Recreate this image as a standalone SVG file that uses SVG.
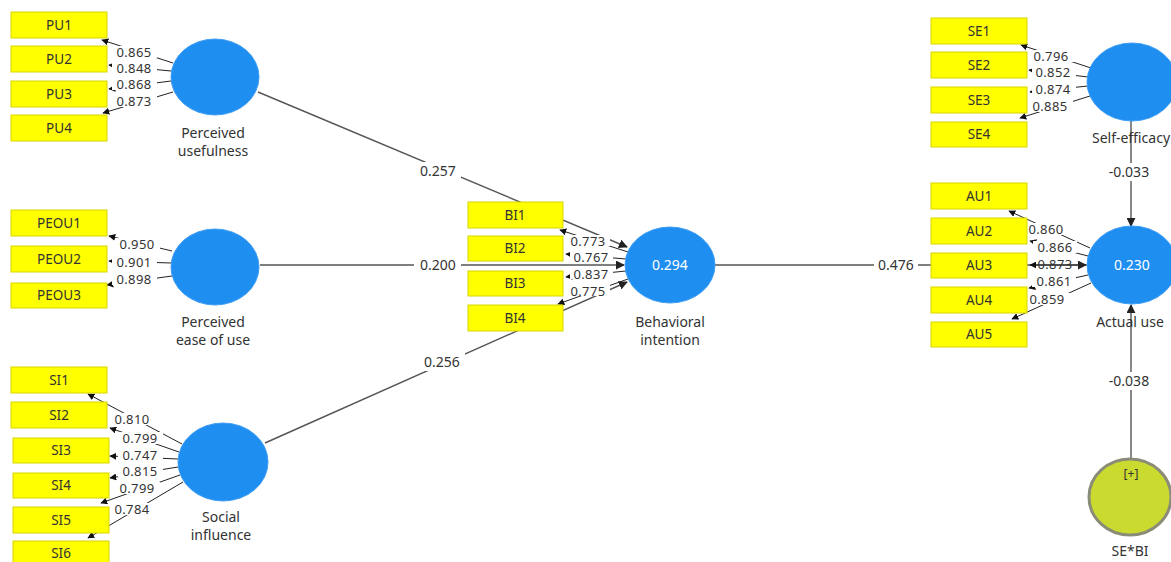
<svg xmlns="http://www.w3.org/2000/svg" width="1171" height="562" viewBox="0 0 1171 562">
<defs>
<marker id="ah" viewBox="0 0 10 10" refX="9" refY="5" markerWidth="7" markerHeight="7" markerUnits="userSpaceOnUse" orient="auto">
<path d="M0,0 L10,5 L0,10 z" fill="#111"/>
</marker>
<marker id="ap" viewBox="0 0 10 10" refX="9" refY="5" markerWidth="9" markerHeight="9" markerUnits="userSpaceOnUse" orient="auto">
<path d="M0,0 L10,5 L0,10 z" fill="#222"/>
</marker>
</defs>
<style>
.ind{fill:#ffff00;stroke:#d6d600;stroke-width:1}
.it{font-family:"Noto Sans","Open Sans",sans-serif;font-size:13.5px;fill:#333;text-anchor:middle}
.lv{fill:#1f8ef1;stroke:#3d9cf3;stroke-width:1}
.lt{font-family:"Noto Sans","Open Sans",sans-serif;font-size:14px;fill:#333;text-anchor:middle}
.r2{font-family:"Noto Sans","Open Sans",sans-serif;font-size:14px;fill:#ffffff;text-anchor:middle}
.ld{stroke:#222;stroke-width:1;fill:none;marker-end:url(#ah)}
.pc{stroke:#555;stroke-width:1.4;fill:none;marker-end:url(#ap)}
.num{font-family:"Noto Sans","Open Sans",sans-serif;font-size:14px;fill:#333;text-anchor:middle}
.ln{font-family:"Noto Sans","Open Sans",sans-serif;font-size:13px;fill:#333;text-anchor:middle;letter-spacing:0.4px}
.bg{fill:#ffffff}
</style>
<rect width="1171" height="562" fill="#ffffff"/>
<g id="connectors">
<line class="pc" x1="258" y1="92" x2="627" y2="247"/>
<line class="pc" x1="260" y1="265" x2="624" y2="265"/>
<line class="pc" x1="265" y1="443" x2="627" y2="282"/>
<line class="pc" x1="715" y1="265" x2="1086" y2="265"/>
<line class="pc" x1="1131" y1="121" x2="1131" y2="226"/>
<line class="pc" x1="1131" y1="459" x2="1131" y2="305"/>
<rect class="bg" x="415" y="162" width="46" height="18"/><text class="num" x="438" y="176">0.257</text>
<rect class="bg" x="414" y="257" width="47" height="17"/><text class="num" x="438" y="270">0.200</text>
<rect class="bg" x="419" y="353" width="46" height="18"/><text class="num" x="442" y="367">0.256</text>
<rect class="bg" x="874" y="257" width="44" height="17"/><text class="num" x="896" y="270">0.476</text>
<rect class="bg" x="1104" y="163" width="50" height="18"/><text class="num" x="1129" y="177">-0.033</text>
<rect class="bg" x="1104" y="372" width="50" height="18"/><text class="num" x="1129" y="386">-0.038</text>
<line class="ld" x1="173" y1="63" x2="102" y2="40"/>
<line class="ld" x1="171" y1="71" x2="109" y2="65"/>
<line class="ld" x1="171" y1="81" x2="109" y2="89"/>
<line class="ld" x1="173" y1="92" x2="103" y2="113"/>
<rect class="bg" x="112" y="46" width="45" height="12"/><text class="ln" x="134" y="57">0.865</text>
<rect class="bg" x="112" y="62" width="45" height="12"/><text class="ln" x="134" y="73">0.848</text>
<rect class="bg" x="112" y="78" width="45" height="12"/><text class="ln" x="134" y="89">0.868</text>
<rect class="bg" x="112" y="95" width="45" height="12"/><text class="ln" x="134" y="106">0.873</text>
<line class="ld" x1="172" y1="251" x2="109" y2="236"/>
<line class="ld" x1="171" y1="263" x2="109" y2="261"/>
<line class="ld" x1="172" y1="276" x2="107" y2="285"/>
<rect class="bg" x="115" y="238" width="45" height="12"/><text class="ln" x="137" y="249">0.950</text>
<rect class="bg" x="112" y="256" width="45" height="12"/><text class="ln" x="134" y="267">0.901</text>
<rect class="bg" x="112" y="273" width="45" height="12"/><text class="ln" x="134" y="284">0.898</text>
<line class="ld" x1="182" y1="444" x2="88" y2="394"/>
<line class="ld" x1="179" y1="452" x2="110" y2="428"/>
<line class="ld" x1="178" y1="459" x2="110" y2="456"/>
<line class="ld" x1="178" y1="467" x2="110" y2="478"/>
<line class="ld" x1="180" y1="475" x2="101" y2="503"/>
<line class="ld" x1="183" y1="482" x2="88" y2="538"/>
<rect class="bg" x="110" y="413" width="45" height="12"/><text class="ln" x="132" y="424">0.810</text>
<rect class="bg" x="118" y="432" width="45" height="12"/><text class="ln" x="140" y="443">0.799</text>
<rect class="bg" x="118" y="449" width="45" height="12"/><text class="ln" x="140" y="460">0.747</text>
<rect class="bg" x="118" y="465" width="45" height="12"/><text class="ln" x="140" y="476">0.815</text>
<rect class="bg" x="115" y="482" width="45" height="12"/><text class="ln" x="137" y="493">0.799</text>
<rect class="bg" x="110" y="503" width="45" height="12"/><text class="ln" x="132" y="514">0.784</text>
<line class="ld" x1="628" y1="252" x2="560" y2="230"/>
<line class="ld" x1="626" y1="259" x2="566" y2="254"/>
<line class="ld" x1="626" y1="271" x2="566" y2="277"/>
<line class="ld" x1="628" y1="279" x2="558" y2="304"/>
<rect class="bg" x="567" y="235" width="43" height="11"/><text class="ln" x="588" y="246">0.773</text>
<rect class="bg" x="570" y="251" width="43" height="11"/><text class="ln" x="591" y="262">0.767</text>
<rect class="bg" x="570" y="268" width="43" height="11"/><text class="ln" x="591" y="279">0.837</text>
<rect class="bg" x="567" y="285" width="43" height="11"/><text class="ln" x="588" y="296">0.775</text>
<line class="ld" x1="1091" y1="68" x2="1021" y2="45"/>
<line class="ld" x1="1088" y1="77" x2="1029" y2="70"/>
<line class="ld" x1="1088" y1="86" x2="1030" y2="92"/>
<line class="ld" x1="1090" y1="96" x2="1020" y2="118"/>
<rect class="bg" x="1030" y="50" width="44" height="12"/><text class="ln" x="1051" y="61">0.796</text>
<rect class="bg" x="1032" y="66" width="44" height="12"/><text class="ln" x="1053" y="77">0.852</text>
<rect class="bg" x="1032" y="83" width="44" height="12"/><text class="ln" x="1053" y="94">0.874</text>
<rect class="bg" x="1029" y="100" width="44" height="12"/><text class="ln" x="1050" y="111">0.885</text>
<line class="ld" x1="1090" y1="248" x2="1009" y2="211"/>
<line class="ld" x1="1088" y1="256" x2="1030" y2="241"/>
<line class="ld" x1="1087" y1="265" x2="1030" y2="265"/>
<line class="ld" x1="1088" y1="275" x2="1029" y2="288"/>
<line class="ld" x1="1091" y1="283" x2="1012" y2="319"/>
<rect class="bg" x="1025" y="223" width="44" height="12"/><text class="ln" x="1046" y="234">0.860</text>
<rect class="bg" x="1033" y="241" width="44" height="12"/><text class="ln" x="1055" y="252">0.866</text>
<text class="ln" x="1055" y="269">0.873</text>
<rect class="bg" x="1032" y="275" width="44" height="12"/><text class="ln" x="1054" y="286">0.861</text>
<rect class="bg" x="1026" y="293" width="44" height="12"/><text class="ln" x="1047" y="304">0.859</text>
</g>
<g id="PU">
<rect class="ind" x="11" y="12" width="96" height="26"/><text class="it" x="59" y="30">PU1</text>
<rect class="ind" x="11" y="46" width="96" height="26"/><text class="it" x="59" y="64">PU2</text>
<rect class="ind" x="11" y="81" width="96" height="26"/><text class="it" x="59" y="99">PU3</text>
<rect class="ind" x="11" y="115" width="96" height="26"/><text class="it" x="59" y="133">PU4</text>
<ellipse class="lv" cx="215" cy="77" rx="44" ry="38"/>
<text class="lt" x="213" y="138">Perceived</text>
<text class="lt" x="213" y="156">usefulness</text>
</g>
<g id="PEOU">
<rect class="ind" x="11" y="210" width="96" height="26"/><text class="it" x="59" y="228">PEOU1</text>
<rect class="ind" x="11" y="246" width="96" height="26"/><text class="it" x="59" y="264">PEOU2</text>
<rect class="ind" x="11" y="283" width="96" height="25"/><text class="it" x="59" y="300">PEOU3</text>
<ellipse class="lv" cx="215" cy="267" rx="44" ry="38"/>
<text class="lt" x="213" y="327">Perceived</text>
<text class="lt" x="213" y="345">ease of use</text>
</g>
<g id="SI">
<rect class="ind" x="11" y="367" width="96" height="26"/><text class="it" x="59" y="385">SI1</text>
<rect class="ind" x="11" y="402" width="96" height="26"/><text class="it" x="59" y="420">SI2</text>
<rect class="ind" x="13" y="438" width="96" height="25"/><text class="it" x="61" y="455">SI3</text>
<rect class="ind" x="13" y="473" width="96" height="25"/><text class="it" x="61" y="490">SI4</text>
<rect class="ind" x="13" y="507" width="96" height="26"/><text class="it" x="61" y="525">SI5</text>
<rect class="ind" x="13" y="541" width="96" height="26"/><text class="it" x="61" y="558">SI6</text>
<ellipse class="lv" cx="223" cy="462" rx="45" ry="39"/>
<text class="lt" x="221" y="522">Social</text>
<text class="lt" x="221" y="540">influence</text>
</g>
<g id="BI">
<rect class="ind" x="468" y="202" width="95" height="26"/><text class="it" x="515" y="220">BI1</text>
<rect class="ind" x="468" y="236" width="95" height="25"/><text class="it" x="515" y="253">BI2</text>
<rect class="ind" x="468" y="271" width="95" height="25"/><text class="it" x="515" y="288">BI3</text>
<rect class="ind" x="468" y="305" width="95" height="26"/><text class="it" x="515" y="323">BI4</text>
<ellipse class="lv" cx="670" cy="265" rx="45" ry="38"/>
<text class="r2" x="670" y="270">0.294</text>
<text class="lt" x="670" y="327">Behavioral</text>
<text class="lt" x="670" y="345">intention</text>
</g>
<g id="SE">
<rect class="ind" x="931" y="18" width="96" height="26"/><text class="it" x="979" y="36">SE1</text>
<rect class="ind" x="931" y="52" width="96" height="26"/><text class="it" x="979" y="70">SE2</text>
<rect class="ind" x="931" y="87" width="96" height="26"/><text class="it" x="979" y="105">SE3</text>
<rect class="ind" x="931" y="122" width="96" height="25"/><text class="it" x="979" y="139">SE4</text>
<ellipse class="lv" cx="1132" cy="82" rx="45" ry="39"/>
<text class="lt" x="1131" y="143">Self-efficacy</text>
</g>
<g id="AU">
<rect class="ind" x="931" y="183" width="96" height="26"/><text class="it" x="979" y="201">AU1</text>
<rect class="ind" x="931" y="218" width="96" height="26"/><text class="it" x="979" y="236">AU2</text>
<rect class="ind" x="931" y="253" width="96" height="25"/><text class="it" x="979" y="270">AU3</text>
<rect class="ind" x="931" y="287" width="96" height="26"/><text class="it" x="979" y="305">AU4</text>
<rect class="ind" x="931" y="322" width="96" height="25"/><text class="it" x="979" y="339">AU5</text>
<ellipse class="lv" cx="1132" cy="265" rx="45" ry="39"/>
<text class="r2" x="1132" y="270">0.230</text>
<text class="lt" x="1130" y="327">Actual use</text>
</g>
<g id="SEBI">
<ellipse cx="1130" cy="497" rx="41" ry="38" fill="#cbda2e" stroke="#8a8c78" stroke-width="3"/>
<text class="lt" x="1131" y="478" style="font-size:12px">[+]</text>
<text class="lt" x="1130" y="556">SE*BI</text>
</g>
</svg>
